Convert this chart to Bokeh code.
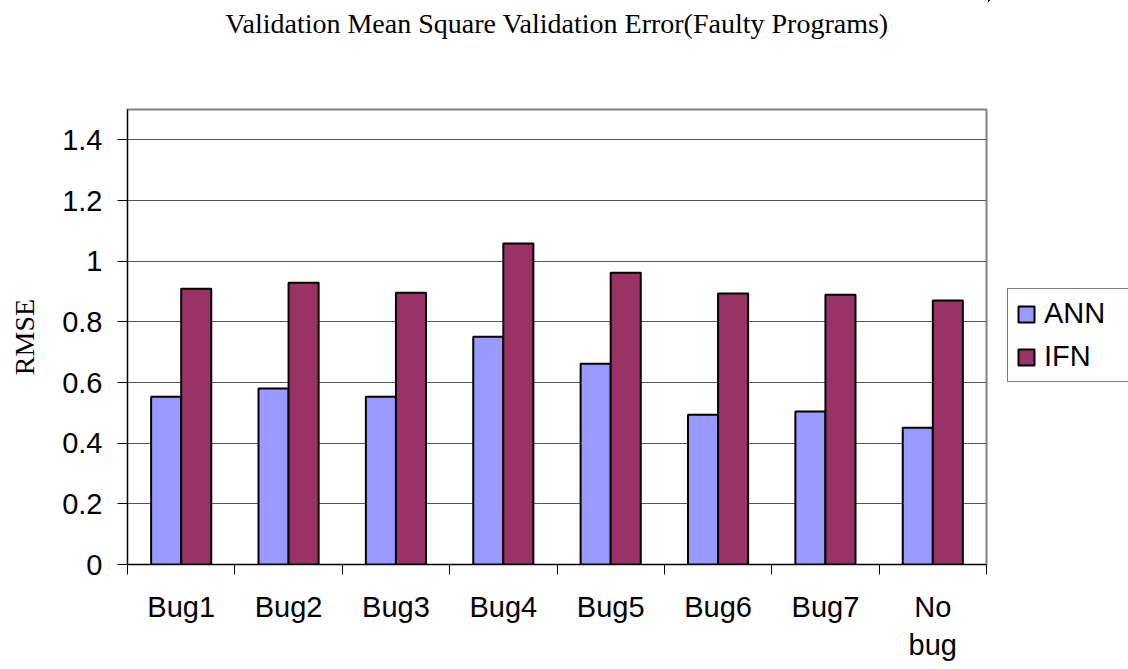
from bokeh.plotting import figure
from bokeh.layouts import row, column
from bokeh.models import (ColumnDataSource, Range1d, FixedTicker, LinearAxis,
                          Legend, LegendItem)
from bokeh.transform import dodge
from bokeh.embed import file_html
from bokeh.resources import INLINE

categories = ["Bug1", "Bug2", "Bug3", "Bug4", "Bug5", "Bug6", "Bug7", "No\nbug"]
ann = [0.553, 0.58, 0.553, 0.751, 0.662, 0.494, 0.504, 0.451]
ifn = [0.909, 0.929, 0.896, 1.058, 0.962, 0.893, 0.889, 0.870]
y_ticks = [0, 0.2, 0.4, 0.6, 0.8, 1.0, 1.2, 1.4]
y_tick_labels = ["0", "0.2", "0.4", "0.6", "0.8", "1", "1.2", "1.4"]
series_names = ["ANN", "IFN"]
series_cols = ["ann", "ifn"]
series_colors = ["#9999FF", "#993366"]

n = len(categories)
xpos = [i + 0.5 for i in range(n)]
src = ColumnDataSource(dict(x=xpos, cat=categories, ann=ann, ifn=ifn))

TICK_FONT = "Liberation Sans"
SERIF = "Liberation Serif"

# ---- title strip ----
pt = figure(width=988, height=50, x_range=Range1d(0, 1), y_range=Range1d(0, 1),
            output_backend="svg", toolbar_location=None,
            x_axis_location=None, y_axis_location=None,
            min_border_left=127, min_border_right=2, min_border_top=0, min_border_bottom=0)
pt.title.text = "Validation Mean Square Validation Error(Faulty Programs)"
pt.title.text_font = SERIF
pt.title.text_font_size = "28px"
pt.title.text_font_style = "normal"
pt.title.text_color = "black"
pt.title.align = "center"
pt.title.standoff = 10
pt.outline_line_color = None
pt.xgrid.grid_line_color = None
pt.ygrid.grid_line_color = None

# ---- main chart ----
p = figure(width=988, height=619, x_range=Range1d(0, n),
           y_range=Range1d(0, 1.5), output_backend="svg", toolbar_location=None,
           x_axis_location=None, min_border_left=127, min_border_right=2,
           min_border_top=59, min_border_bottom=105)

offsets = [-0.14, 0.14]
for col, off, c in zip(series_cols, offsets, series_colors):
    p.vbar(x=dodge("x", off), top=col, width=0.28, source=src,
           fill_color=c, line_color="black", line_width=2)

ya = p.yaxis[0]
ya.ticker = FixedTicker(ticks=y_ticks)
ya.major_label_overrides = {t: l for t, l in zip(y_ticks, y_tick_labels)}
ya.major_label_text_font = TICK_FONT
ya.major_label_text_font_size = "29px"
ya.major_label_text_color = "black"
ya.major_tick_out = 10
ya.major_tick_in = 0
ya.minor_tick_line_color = None
ya.axis_line_color = "black"
ya.major_tick_line_color = "black"
ya.major_label_standoff = 15
ya.axis_label = "RMSE"
ya.axis_label_text_font = SERIF
ya.axis_label_text_font_size = "28px"
ya.axis_label_text_font_style = "normal"
ya.axis_label_text_color = "black"
ya.axis_label_standoff = 19

xa = LinearAxis(ticker=FixedTicker(ticks=xpos, minor_ticks=list(range(n + 1))))
xa.major_label_overrides = {x: c for x, c in zip(xpos, categories)}
xa.axis_line_color = "black"
xa.major_tick_line_color = None
xa.major_tick_out = 0
xa.major_tick_in = 0
xa.minor_tick_line_color = "black"
xa.minor_tick_out = 10
xa.minor_tick_in = 0
xa.major_label_text_font = TICK_FONT
xa.major_label_text_font_size = "29px"
xa.major_label_text_color = "black"
xa.major_label_standoff = 16
p.add_layout(xa, "below")

p.xgrid.grid_line_color = None
p.ygrid.grid_line_color = "#555555"
p.ygrid.ticker = FixedTicker(ticks=y_ticks)
p.outline_line_color = "#808080"
p.outline_line_width = 2

# ---- legend panel (series drawn out of view; only the legend shows) ----
pl = figure(width=140, height=669, x_range=Range1d(100, 101), y_range=Range1d(-2, -1),
            output_backend="svg", toolbar_location=None,
            x_axis_location=None, y_axis_location=None,
            min_border_left=0, min_border_right=0, min_border_top=0, min_border_bottom=0)
pl.outline_line_color = None
pl.xgrid.grid_line_color = None
pl.ygrid.grid_line_color = None
lr = [pl.vbar(x="x", top=col, width=0.28, source=src, fill_color=c,
              line_color="black", line_width=2)
      for col, c in zip(series_cols, series_colors)]
legend = Legend(items=[LegendItem(label=nm, renderers=[r]) for nm, r in zip(series_names, lr)],
                location=(19, 287))
legend.label_text_font = TICK_FONT
legend.label_text_font_size = "29px"
legend.label_text_color = "black"
legend.glyph_width = 20
legend.glyph_height = 20
legend.label_standoff = 8
legend.label_width = 90
legend.padding = 8
legend.spacing = 10
legend.margin = 0
legend.border_line_color = "black"
legend.border_line_width = 1
legend.background_fill_alpha = 1
pl.add_layout(legend, "center")

layout = row(column(pt, p), pl)
open("out.html", "w").write(file_html(layout, INLINE))
